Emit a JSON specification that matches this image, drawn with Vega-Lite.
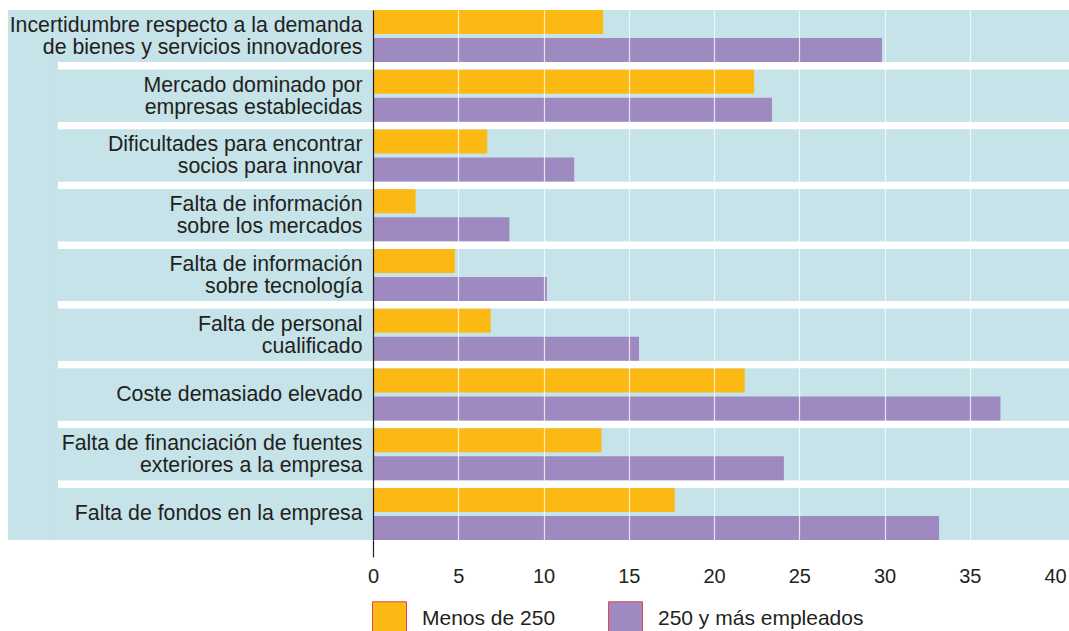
{
  "$schema": "https://vega.github.io/schema/vega-lite/v6.json",
  "autosize": {"type": "none"},
  "padding": {"left": 373, "top": 10, "right": 14, "bottom": 91},
  "width": 682,
  "height": 530,
  "background": "white",
  "config": {
    "view": {"stroke": null},
    "font": "Liberation Sans"
  },
  "data": {
    "values": [
      {"categoria": "Incertidumbre respecto a la demanda|de bienes y servicios innovadores", "grupo": "Menos de 250", "valor": 13.5},
      {"categoria": "Incertidumbre respecto a la demanda|de bienes y servicios innovadores", "grupo": "250 y más empleados", "valor": 29.85},
      {"categoria": "Mercado dominado por|empresas establecidas", "grupo": "Menos de 250", "valor": 22.35},
      {"categoria": "Mercado dominado por|empresas establecidas", "grupo": "250 y más empleados", "valor": 23.4},
      {"categoria": "Dificultades para encontrar|socios para innovar", "grupo": "Menos de 250", "valor": 6.7},
      {"categoria": "Dificultades para encontrar|socios para innovar", "grupo": "250 y más empleados", "valor": 11.8},
      {"categoria": "Falta de información|sobre los mercados", "grupo": "Menos de 250", "valor": 2.5},
      {"categoria": "Falta de información|sobre los mercados", "grupo": "250 y más empleados", "valor": 8.0},
      {"categoria": "Falta de información|sobre tecnología", "grupo": "Menos de 250", "valor": 4.8},
      {"categoria": "Falta de información|sobre tecnología", "grupo": "250 y más empleados", "valor": 10.2},
      {"categoria": "Falta de personal|cualificado", "grupo": "Menos de 250", "valor": 6.9},
      {"categoria": "Falta de personal|cualificado", "grupo": "250 y más empleados", "valor": 15.6},
      {"categoria": "Coste demasiado elevado", "grupo": "Menos de 250", "valor": 21.8},
      {"categoria": "Coste demasiado elevado", "grupo": "250 y más empleados", "valor": 36.8},
      {"categoria": "Falta de financiación de fuentes|exteriores a la empresa", "grupo": "Menos de 250", "valor": 13.4},
      {"categoria": "Falta de financiación de fuentes|exteriores a la empresa", "grupo": "250 y más empleados", "valor": 24.1},
      {"categoria": "Falta de fondos en la empresa", "grupo": "Menos de 250", "valor": 17.7},
      {"categoria": "Falta de fondos en la empresa", "grupo": "250 y más empleados", "valor": 33.2}
    ]
  },
  "layer": [
    {
      "mark": {"type": "rect", "color": "#c5e3e8"},
      "encoding": {
        "x": {"datum": -21.4, "type": "quantitative", "scale": {"domain": [0, 40], "nice": false}},
        "x2": {"datum": -18.5}
      }
    },
    {
      "mark": {"type": "bar", "color": "#c5e3e8"},
      "encoding": {
        "y": {"field": "categoria", "type": "nominal", "sort": null},
        "x": {"datum": -18.6, "type": "quantitative"},
        "x2": {"datum": 40.82}
      }
    },
    {
      "mark": {"type": "bar"},
      "encoding": {
        "y": {
          "field": "categoria",
          "type": "nominal",
          "sort": null,
          "scale": {"paddingInner": 0.13, "paddingOuter": 0},
          "axis": {
            "title": null,
            "labelExpr": "split(datum.label, '|')",
            "labelFont": "Liberation Sans",
            "labelFontSize": 21.3,
            "labelColor": "#231f20",
            "labelLineHeight": 22,
            "labelPadding": 11,
            "labelLimit": 400,
            "labelOffset": {"condition": {"test": "indexof(datum.value, '|') >= 0", "value": -10}, "value": 0},
            "ticks": false,
            "domain": true,
            "domainColor": "#231f20",
            "domainWidth": 1.2,
            "zindex": 2
          }
        },
        "yOffset": {
          "field": "grupo",
          "type": "nominal",
          "sort": ["Menos de 250", "250 y más empleados"],
          "scale": {"paddingInner": 0.15, "paddingOuter": 0}
        },
        "x": {
          "field": "valor",
          "type": "quantitative",
          "scale": {"domain": [0, 40], "nice": false},
          "axis": {
            "title": null,
            "values": [0, 5, 10, 15, 20, 25, 30, 35, 40],
            "format": "d",
            "labelFont": "Liberation Sans",
            "labelFontSize": 20,
            "labelColor": "#231f20",
            "labelPadding": 9,
            "labelFlush": false,
            "labelOverlap": false,
            "domain": false,
            "grid": true,
            "gridColor": "white",
            "gridWidth": 1.2,
            "gridOpacity": {"condition": {"test": "datum.value === 0 || datum.value === 40", "value": 0}, "value": 0.75},
            "ticks": true,
            "tickSize": 17,
            "tickWidth": 1.2,
            "tickColor": {"condition": {"test": "datum.value === 0", "value": "#231f20"}, "value": "transparent"},
            "zindex": 1
          }
        },
        "color": {
          "field": "grupo",
          "type": "nominal",
          "sort": ["Menos de 250", "250 y más empleados"],
          "scale": {"domain": ["Menos de 250", "250 y más empleados"], "range": ["#fcb813", "#9e8ac1"]},
          "legend": {
            "title": null,
            "orient": "none",
            "legendX": -1,
            "legendY": 591,
            "direction": "horizontal",
            "symbolType": "square",
            "symbolSize": 1156,
            "symbolStrokeColor": "#e0465a",
            "symbolStrokeWidth": 1,
            "symbolOpacity": 1,
            "labelFont": "Liberation Sans",
            "labelFontSize": 21,
            "labelColor": "#231f20",
            "labelOffset": 15,
            "labelLimit": 400,
            "columnPadding": 50,
            "padding": 0
          }
        }
      }
    }
  ]
}
